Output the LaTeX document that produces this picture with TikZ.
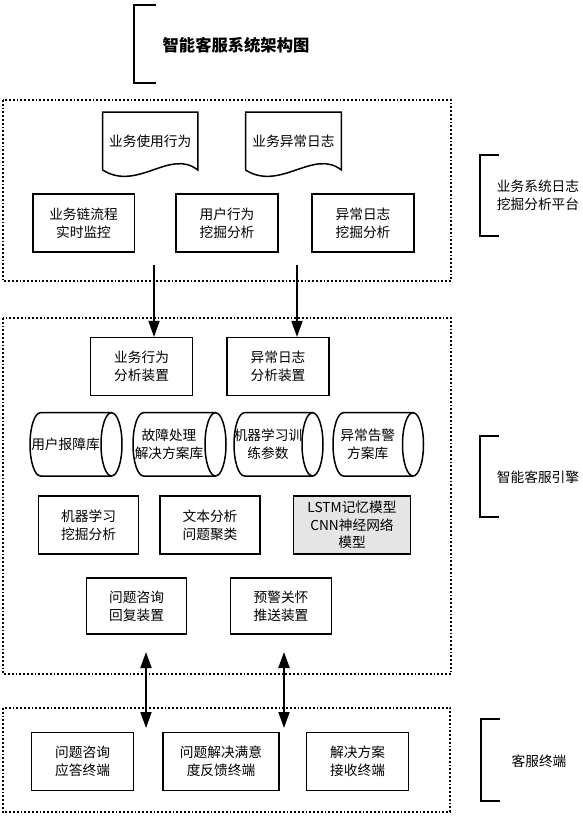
\documentclass[tikz,border=0pt]{standalone}
\usepackage{fontspec}
\newfontfamily\cjk{Noto Sans CJK SC}
\usepackage{tikz}
\usetikzlibrary{arrows.meta}

\tikzset{
	txt/.style={align=center, inner sep=0pt, font=\cjk\fontsize{13.7}{18}\selectfont},
	box/.style={txt, draw, line width=1.5pt, minimum height=58pt},
	outline/.style={line width=1.5pt},
	zone/.style={draw, dotted, line width=1.8pt},
	brace/.style={line width=1.6pt},
	flow/.style={line width=1.8pt, -{Triangle[length=16pt,width=11pt]}},
	twoway/.style={line width=1.8pt, {Triangle[length=16pt,width=11pt]}-{Triangle[length=16pt,width=11pt]}},
}

\begin{document}
\begin{tikzpicture}[x=1pt, y=-1pt]
	\useasboundingbox (0,0) rectangle (582,819);
	\def\rx{10.5}
	\def\ry{31.65}

	% title
	\draw[brace] (156,5) -| (134,83) -- (156,83);
	\node[font=\cjk\bfseries\fontsize{16.3}{20}\selectfont] (title) at (236,45) {智能客服系统架构图};

	% dotted zones
	\draw[zone] (3,100) rectangle (451,281);
	\draw[zone] (3,318) rectangle (451,674);
	\draw[zone] (3,708) rectangle (450,812);

	% side labels
	\draw[brace] (499,155) -| (480,236) -- (499,236);
	\node[txt] (platform) at (538,195) {业务系统日志\\挖掘分析平台};
	\draw[brace] (499,436) -| (480,517) -- (499,517);
	\node[txt] (engine) at (538,477) {智能客服引擎};
	\draw[brace] (500,719) -| (481,801) -- (500,801);
	\node[txt] (terminal) at (539,761) {客服终端};

	% log documents
	\foreach \l/\r/\t/\n in {102.6/197.8/业务使用行为/usage, 245.5/341.4/业务异常日志/errlog}{
		\draw[outline] (\l,170) -- (\l,112) -- (\r,112) -- (\r,170)
			.. controls ({\r-28},148) and ({\l+35},192) .. (\l,170);
		\node[txt] (\n) at ({(\l+\r)/2},141) {\t};
	}

	% mining platform
	\node[box, minimum width=101.5pt] (chain) at (83.5,223) {业务链流程\\实时监控};
	\node[box, minimum width=102pt] (behave) at (227,223) {用户行为\\挖掘分析};
	\node[box, minimum width=102pt] (errmine) at (363,223) {异常日志\\挖掘分析};

	% engine
	\node[box, minimum width=102pt] (bizdev) at (141.6,366.7) {业务行为\\分析装置};
	\node[box, minimum width=102pt] (errdev) at (278,366.7) {异常日志\\分析装置};

	% databases
	\foreach \l/\r/\t/\n in {30/122/用户报障库/faultdb, 133/226/故障处理\\解决方案库/solvedb,
			234/323/机器学习训\\练参数/paramdb, 333/423.5/异常告警\\方案库/alarmdb}{
		\draw[outline] ({\r-\rx},412.7) -- ({\l+\rx},412.7)
			arc[start angle=90, end angle=270, x radius=\rx pt, y radius=\ry pt] -- ({\r-\rx},476);
		\draw[outline] ({\r-\rx},444.35) ellipse[x radius=\rx pt, y radius=\ry pt];
		\node[txt] (\n) at ({(\l+\r-2*\rx)/2},444.35) {\t};
	}

	\node[box, minimum width=100pt] (mlmine) at (88.6,525) {机器学习\\挖掘分析};
	\node[box, minimum width=100pt] (cluster) at (210,525) {文本分析\\问题聚类};
	\node[box, minimum width=117pt, fill=black!10, font=\cjk\fontsize{13.7}{17.5}\selectfont] (model) at (352,525) {LSTM记忆模型\\CNN神经网络\\模型};

	\node[box, minimum width=100pt, minimum height=56pt] (reply) at (136.6,606) {问题咨询\\回复装置};
	\node[box, minimum width=101pt, minimum height=56pt] (push) at (281,606) {预警关怀\\推送装置};

	% terminals
	\node[box, minimum width=102pt] (askterm) at (82.6,761.7) {问题咨询\\应答终端};
	\node[box, minimum width=116pt] (rateterm) at (221,761.7) {问题解决满意\\度反馈终端};
	\node[box, minimum width=102pt] (planterm) at (357.6,761.7) {解决方案\\接收终端};

	% connectors
	\coordinate (from usage) at (154,265);
	\coordinate (from errlog) at (297,265);
	\draw[flow] (from usage) -- (from usage |- bizdev.north);
	\draw[flow] (from errlog) -- (from errlog |- errdev.north);

	\coordinate (reply end) at (146,652);
	\coordinate (ask end) at (146,728);
	\coordinate (push end) at (284,652);
	\coordinate (rate end) at (284,728);
	\draw[twoway] (reply end) -- (ask end);
	\draw[twoway] (push end) -- (rate end);
\end{tikzpicture}
\end{document}
